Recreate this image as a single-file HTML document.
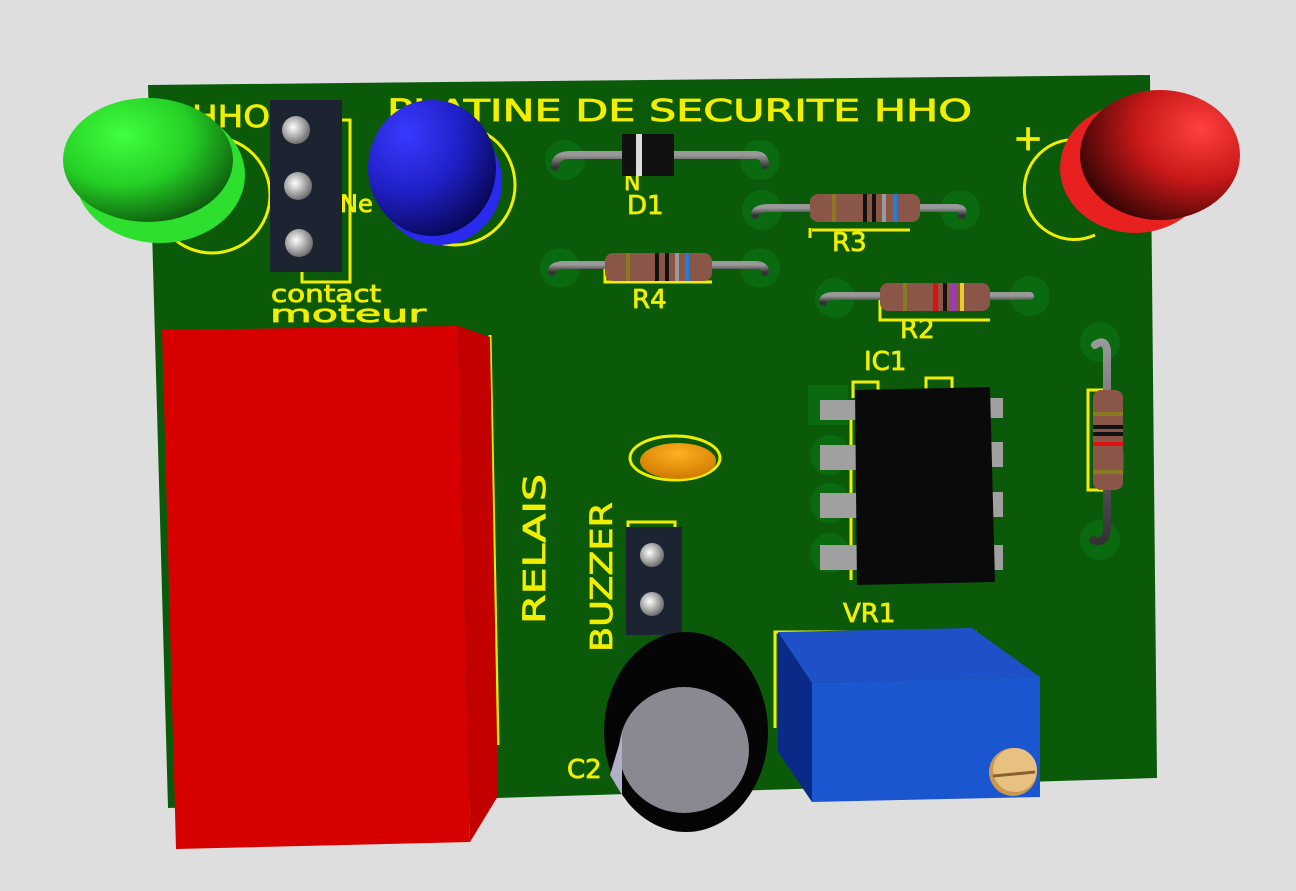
<!DOCTYPE html>
<html><head><meta charset="utf-8"><style>
html,body{margin:0;padding:0;background:#dedede;}
svg{display:block}
text{font-family:"DejaVu Sans","Liberation Sans",sans-serif;fill:#f2ee00;stroke:#f2ee00;stroke-width:0.8;}
</style></head><body>
<svg width="1296" height="891" viewBox="0 0 1296 891" xmlns="http://www.w3.org/2000/svg">
<defs>
<radialGradient id="gled" cx="0.35" cy="0.3" r="0.8"><stop offset="0" stop-color="#40ff40"/><stop offset="0.5" stop-color="#25d025"/><stop offset="1" stop-color="#0a4a0a"/></radialGradient>
<radialGradient id="bled" cx="0.3" cy="0.25" r="0.85"><stop offset="0" stop-color="#3a3aff"/><stop offset="0.5" stop-color="#2020c8"/><stop offset="1" stop-color="#05054a"/></radialGradient>
<radialGradient id="rled" cx="0.75" cy="0.3" r="0.8"><stop offset="0" stop-color="#ff4040"/><stop offset="0.5" stop-color="#c81818"/><stop offset="1" stop-color="#3a0505"/></radialGradient>
<radialGradient id="orng" cx="0.5" cy="0.3" r="0.7"><stop offset="0" stop-color="#ffb020"/><stop offset="1" stop-color="#d07a00"/></radialGradient>
<radialGradient id="hole" cx="0.4" cy="0.4" r="0.6"><stop offset="0" stop-color="#fff"/><stop offset="1" stop-color="#707070"/></radialGradient>
<linearGradient id="lead" x1="0" y1="0" x2="0" y2="1"><stop offset="0" stop-color="#999"/><stop offset="1" stop-color="#333"/></linearGradient>
</defs>
<polygon points="148,85 1150,75 1157,778 168,808" fill="#0a5a0a"/>
<g fill="#0a6a10">
<circle cx="565" cy="160" r="20"/><circle cx="760" cy="160" r="20"/>
<circle cx="762" cy="210" r="20"/><circle cx="960" cy="210" r="20"/>
<circle cx="560" cy="268" r="20"/><circle cx="760" cy="268" r="20"/>
<circle cx="835" cy="298" r="20"/><circle cx="1030" cy="296" r="20"/>
<circle cx="1100" cy="342" r="20"/><circle cx="1100" cy="540" r="20"/>
<circle cx="830" cy="455" r="20"/><circle cx="830" cy="503" r="20"/><circle cx="830" cy="553" r="20"/>
<rect x="808" y="385" width="40" height="40"/>
</g>
<g fill="none" stroke="#f2ee00" stroke-width="3">
<circle cx="212" cy="195" r="58"/>
<circle cx="455" cy="185" r="60"/>
<path d="M1090 142 A50 50 0 1 0 1095 235"/>
<path d="M305 120 H350 V282 H302 V272"/>
<path d="M853 398 V382 H878 V392 M926 392 V378 H952 V390"/>
<path d="M851 400 V580"/>
<path d="M1107 345 V390 H1088 V490 H1107 V530"/>
<path d="M490 335 L498 745"/>
<path d="M628 635 V522 H675 V530"/>
<path d="M775 728 V632 H975 V645"/>
<path d="M607 730 A80 80 0 0 1 742 670"/>
<path d="M810 228 V238 M812 230 H910 M605 268 V282 H712 M880 298 V320 H990"/>
</g>
<ellipse cx="675" cy="458" rx="45" ry="22" fill="none" stroke="#f2ee00" stroke-width="3"/>
<ellipse cx="678" cy="461" rx="38" ry="18" fill="url(#orng)"/>
<g>
<text x="192" y="127" font-size="30" textLength="78" lengthAdjust="spacingAndGlyphs">HHO</text>
<text x="387" y="121" font-size="30" textLength="585" lengthAdjust="spacingAndGlyphs">PLATINE DE SECURITE HHO</text>
<text x="1013" y="150" font-size="36">+</text>
<text x="624" y="190" font-size="22">N</text>
<text x="627" y="214" font-size="26">D1</text>
<text x="832" y="251" font-size="26">R3</text>
<text x="632" y="308" font-size="26">R4</text>
<text x="900" y="338" font-size="26">R2</text>
<text x="864" y="370" font-size="26">IC1</text>
<text x="843" y="622" font-size="26">VR1</text>
<text x="567" y="778" font-size="26">C2</text>
<text x="340" y="212" font-size="24">Ne</text>
<text x="271" y="302" font-size="24" textLength="110" lengthAdjust="spacingAndGlyphs">contact</text>
<text x="270" y="322" font-size="24" textLength="156" lengthAdjust="spacingAndGlyphs">moteur</text>
<text transform="translate(545,624) rotate(-90)" font-size="30" textLength="150" lengthAdjust="spacingAndGlyphs">RELAIS</text>
<text transform="translate(612,652) rotate(-90)" font-size="30" textLength="150" lengthAdjust="spacingAndGlyphs">BUZZER</text>
<text x="1118" y="470" font-size="24">I</text>
</g>
<g stroke="url(#lead)" stroke-width="8" fill="none" stroke-linecap="round">
<path d="M555 167 Q555 155 570 155 H755 Q765 155 765 165"/>
<path d="M755 215 Q755 208 770 208 H955 Q965 208 962 215"/>
<path d="M552 272 Q552 265 565 265 H755 Q765 265 765 272"/>
<path d="M823 302 Q823 296 835 296 H1030"/>
<path d="M1095 345 Q1105 338 1107 350 V530 Q1105 545 1093 540"/>
</g>
<rect x="622" y="134" width="52" height="42" fill="#111"/><rect x="636" y="134" width="6" height="42" fill="#ddd"/>
<g>
<rect x="810" y="194" width="110" height="28" rx="8" fill="#8a5648"/>
<rect x="832" y="194" width="4" height="28" fill="#8a7a20"/><rect x="863" y="194" width="4" height="28" fill="#111"/><rect x="872" y="194" width="4" height="28" fill="#111"/><rect x="882" y="194" width="4" height="28" fill="#999"/><rect x="893" y="194" width="4" height="28" fill="#2080e0"/>
<rect x="605" y="253" width="107" height="28" rx="8" fill="#8a5648"/>
<rect x="626" y="253" width="4" height="28" fill="#8a7a20"/><rect x="655" y="253" width="4" height="28" fill="#111"/><rect x="665" y="253" width="4" height="28" fill="#111"/><rect x="675" y="253" width="4" height="28" fill="#999"/><rect x="685" y="253" width="4" height="28" fill="#2080e0"/>
<rect x="880" y="283" width="110" height="28" rx="8" fill="#8a5648"/>
<rect x="903" y="283" width="4" height="28" fill="#8a7a20"/><rect x="933" y="283" width="5" height="28" fill="#e01010"/><rect x="943" y="283" width="4" height="28" fill="#111"/><rect x="951" y="283" width="5" height="28" fill="#a030e0"/><rect x="960" y="283" width="4" height="28" fill="#e8d020"/>
<rect x="1093" y="390" width="30" height="100" rx="8" fill="#8a5648"/>
<rect x="1093" y="412" width="30" height="4" fill="#8a7a20"/><rect x="1093" y="425" width="30" height="4" fill="#111"/><rect x="1093" y="432" width="30" height="4" fill="#111"/><rect x="1093" y="442" width="30" height="4" fill="#e01010"/><rect x="1093" y="470" width="30" height="4" fill="#8a7a20"/>
</g>
<rect x="270" y="100" width="72" height="172" fill="#1c2431"/>
<circle cx="296" cy="130" r="14" fill="url(#hole)"/><circle cx="298" cy="186" r="14" fill="url(#hole)"/><circle cx="299" cy="243" r="14" fill="url(#hole)"/>
<rect x="626" y="527" width="56" height="108" fill="#1c2431"/>
<circle cx="652" cy="555" r="12" fill="url(#hole)"/><circle cx="652" cy="604" r="12" fill="url(#hole)"/>
<ellipse cx="160" cy="175" rx="85" ry="68" fill="#2ee02e"/>
<ellipse cx="148" cy="160" rx="85" ry="62" fill="url(#gled)"/>
<ellipse cx="440" cy="182" rx="62" ry="63" fill="#2a2aee"/>
<ellipse cx="432" cy="168" rx="64" ry="68" fill="url(#bled)"/>
<ellipse cx="1135" cy="168" rx="75" ry="65" fill="#e82020"/>
<ellipse cx="1160" cy="155" rx="80" ry="65" fill="url(#rled)"/>
<g fill="#a0a0a0">
<rect x="820" y="400" width="38" height="20"/><rect x="820" y="445" width="38" height="25"/><rect x="820" y="493" width="38" height="25"/><rect x="820" y="545" width="38" height="25"/>
<rect x="990" y="398" width="13" height="20"/><rect x="990" y="442" width="13" height="25"/><rect x="990" y="492" width="13" height="25"/><rect x="990" y="545" width="13" height="25"/>
</g>
<polygon points="855,390 990,387 995,582 857,585" fill="#0a0a0a"/>
<polygon points="458,326 490,337 498,796 470,842" fill="#c20000"/>
<polygon points="162,330 458,326 470,842 176,849" fill="#d60000"/>
<ellipse cx="686" cy="732" rx="82" ry="100" fill="#050505"/>
<ellipse cx="684" cy="750" rx="65" ry="63" fill="#8a8890"/>
<polygon points="610,775 622,735 622,795" fill="#b0b0c8"/>
<polygon points="778,632 972,628 1040,677 812,683" fill="#1e50c8"/>
<polygon points="778,632 812,683 812,802 778,752" fill="#0a2a88"/>
<polygon points="812,683 1040,677 1040,797 812,802" fill="#1a56d0"/>
<ellipse cx="1013" cy="772" rx="24" ry="24" fill="#c89850"/>
<ellipse cx="1015" cy="770" rx="22" ry="22" fill="#e8c080"/>
<line x1="993" y1="776" x2="1035" y2="772" stroke="#8a6030" stroke-width="3"/>
</svg>
</body></html>
